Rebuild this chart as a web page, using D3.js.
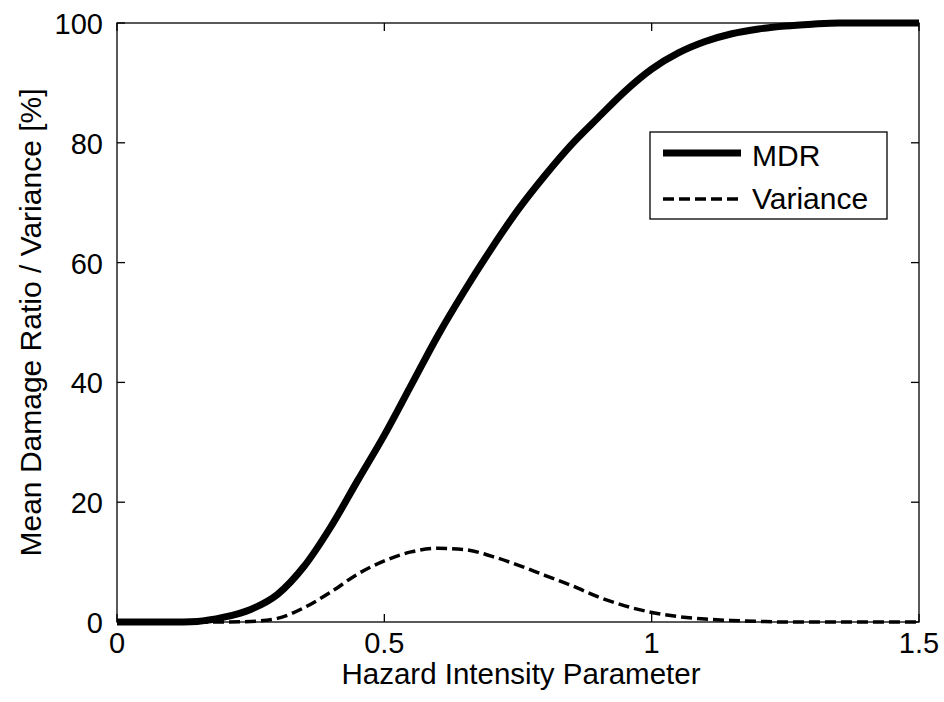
<!DOCTYPE html>
<html><head><meta charset="utf-8">
<script src="https://cdn.jsdelivr.net/npm/d3@7"></script>
<style>body{margin:0;background:#fff}text{font-family:"Liberation Sans",Arial,sans-serif;fill:#000}</style>
</head><body><svg id="c" width="944" height="702"></svg>
<script>
const xVals = [0,0.05,0.1,0.15,0.2,0.25,0.3,0.35,0.4,0.45,0.5,0.55,0.6,0.65,0.7,0.75,0.8,0.85,0.9,0.95,1.0,1.05,1.1,1.15,1.2,1.25,1.3,1.35,1.4,1.45,1.5];
const mdr = [0,0,0,0.1,0.8,2.1,4.6,9.3,15.9,23.6,31.2,39.5,47.8,55.3,62.3,68.8,74.5,79.7,84.2,88.6,92.3,95.0,96.9,98.2,99.0,99.5,99.8,100,100,100,100];
const variance = [0,0,0,0,0,0.1,0.6,2.4,5.0,8.0,10.2,11.7,12.3,12.1,11.0,9.5,7.8,6.1,4.2,2.7,1.6,0.9,0.5,0.25,0.1,0,0,0,0,0,0];
const xTicks = [0,0.5,1,1.5];
const xTickLabels = ["0","0.5","1","1.5"];
const yTicks = [0,20,40,60,80,100];
const seriesNames = ["MDR","Variance"];

const svg = d3.select("#c");
const L=117,R=919,T=23,B=622;
const x = d3.scaleLinear().domain([0,1.5]).range([L,R]);
const y = d3.scaleLinear().domain([0,100]).range([B,T]);
const tl = 8;

// ticks (inward, all four sides)
const g = svg.append("g").attr("stroke","#000").attr("stroke-width",1.3);
xTicks.forEach(v=>{
  g.append("line").attr("x1",x(v)).attr("x2",x(v)).attr("y1",B).attr("y2",B-tl);
  g.append("line").attr("x1",x(v)).attr("x2",x(v)).attr("y1",T).attr("y2",T+tl);
});
yTicks.forEach(v=>{
  g.append("line").attr("x1",L).attr("x2",L+tl).attr("y1",y(v)).attr("y2",y(v));
  g.append("line").attr("x1",R).attr("x2",R-tl).attr("y1",y(v)).attr("y2",y(v));
});
g.append("rect").attr("x",L).attr("y",T).attr("width",R-L).attr("height",B-T).attr("fill","none");

// tick labels
xTicks.forEach((v,i)=>{
  svg.append("text").attr("x",x(v)).attr("y",B+31).attr("text-anchor","middle")
    .attr("font-size",29).text(xTickLabels[i]);
});
yTicks.forEach(v=>{
  svg.append("text").attr("x",L-14).attr("y",y(v)+11).attr("text-anchor","end")
    .attr("font-size",29).text(v);
});

// axis titles
svg.append("text").attr("x",(L+R)/2+3).attr("y",B+62).attr("text-anchor","middle")
  .attr("font-size",29.5).text("Hazard Intensity Parameter");
svg.append("text").attr("transform",`translate(41,${(T+B)/2}) rotate(-90)`).attr("text-anchor","middle")
  .attr("font-size",30).text("Mean Damage Ratio / Variance [%]");

// lines
const line = d3.line().x((d,i)=>x(xVals[i])).y(d=>y(d)).curve(d3.curveMonotoneX);
svg.append("path").datum(variance).attr("d",line).attr("fill","none").attr("stroke","#000")
  .attr("stroke-width",3.5).attr("stroke-dasharray","11,5");
svg.append("path").datum(mdr).attr("d",line).attr("fill","none").attr("stroke","#000")
  .attr("stroke-width",7);

// legend
const lg = svg.append("g");
lg.append("rect").attr("x",650).attr("y",132).attr("width",237).attr("height",87)
  .attr("fill","#fff").attr("stroke","#000").attr("stroke-width",1.3);
lg.append("line").attr("x1",663).attr("x2",741).attr("y1",153).attr("y2",153)
  .attr("stroke","#000").attr("stroke-width",7);
lg.append("line").attr("x1",663).attr("x2",741).attr("y1",199).attr("y2",199)
  .attr("stroke","#000").attr("stroke-width",3.5).attr("stroke-dasharray","11,5");
lg.append("text").attr("x",752).attr("y",166).attr("font-size",30).text(seriesNames[0]);
lg.append("text").attr("x",752).attr("y",209).attr("font-size",30).text(seriesNames[1]);
</script></body></html>
